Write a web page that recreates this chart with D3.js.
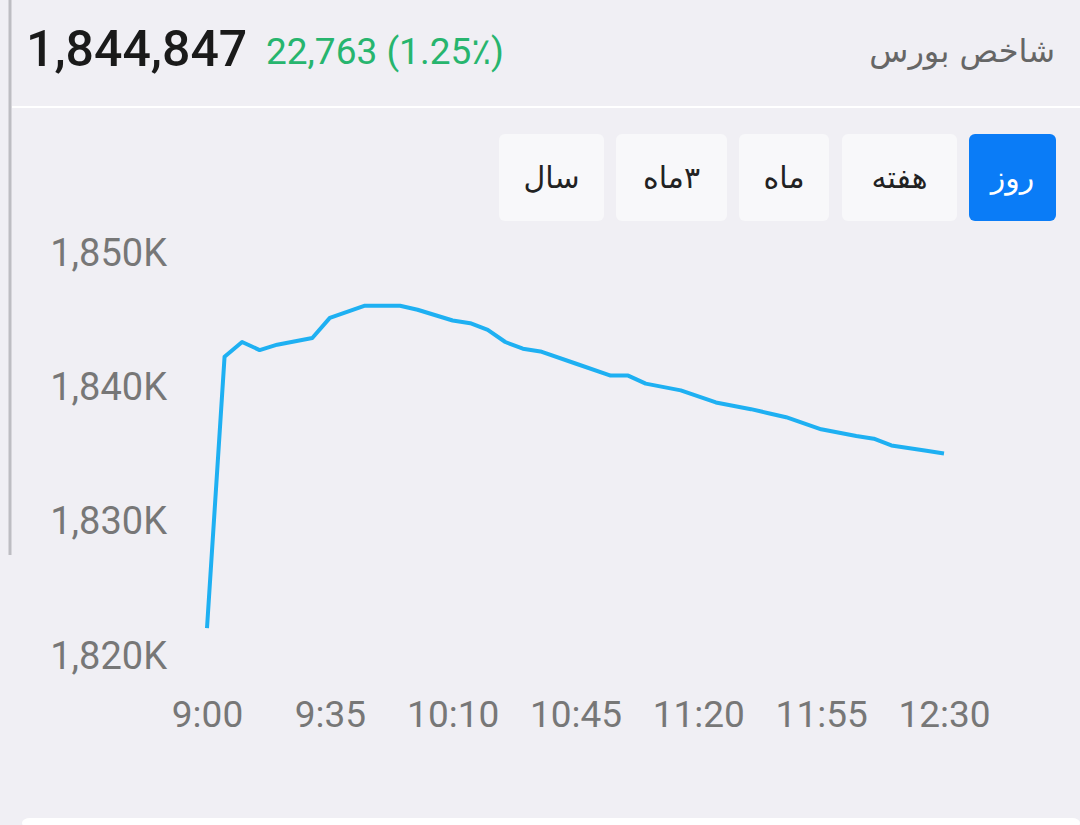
<!DOCTYPE html><html><head><meta charset="utf-8">
<script src="https://cdn.jsdelivr.net/npm/d3@7"></script>
<style>body{margin:0;background:#f0eff4;}svg{display:block}</style></head><body>
<svg id="c" width="1080" height="825"></svg>
<script>
const times=[0,5,10,15,20,30,35,45,55,60,70,75,80,85,90,95,105,115,120,125,135,145,155,160,165,175,185,190,195,205,210];
const values=[1822.0,1842.2,1843.3,1842.7,1843.1,1843.6,1845.1,1846.0,1846.0,1845.7,1844.9,1844.7,1844.2,1843.3,1842.8,1842.6,1841.7,1840.8,1840.8,1840.2,1839.7,1838.8,1838.3,1838.0,1837.7,1836.8,1836.3,1836.1,1835.6,1835.2,1835.0];
const yTicks=[1820,1830,1840,1850];
const xTicks=[0,35,70,105,140,175,210];
const xLabels=["9:00","9:35","10:10","10:45","11:20","11:55","12:30"];
const buttons=["روز","هفته","ماه","۳ماه","سال"];
const svg=d3.select("#c");
const f="Roboto, 'DejaVu Sans', sans-serif";
svg.append("rect").attr("x",22).attr("y",818).attr("width",1058).attr("height",10).attr("rx",8).attr("fill","#fff");
svg.append("line").attr("x1",10).attr("x2",10).attr("y1",0).attr("y2",555).attr("stroke","#bdbdc2").attr("stroke-width",3);
svg.append("line").attr("x1",12).attr("x2",1080).attr("y1",107).attr("y2",107).attr("stroke","#fff").attr("stroke-width",2);
svg.append("text").attr("x",26).attr("y",66).attr("font-family",f).attr("font-size",50).attr("font-weight",500).attr("fill","#1a1a1a").text("1,844,847");
svg.append("text").attr("x",266).attr("y",64).attr("font-family",f).attr("font-size",37).attr("fill","#27b56e").text("22,763 (1.25٪)");
svg.append("text").attr("x",1055).attr("y",62).attr("text-anchor","end").attr("font-family","'DejaVu Sans', sans-serif").attr("font-size",32).attr("fill","#666").text("شاخص بورس");
const bx=[[969,1056],[842,957],[739,829],[616,727],[499,604]];
buttons.forEach((b,i)=>{const [a,e]=bx[i];
svg.append("rect").attr("x",a).attr("y",134).attr("width",e-a).attr("height",87).attr("rx",6).attr("fill",i==0?"#0a7cf7":"#f8f8fa");
svg.append("text").attr("x",(a+e)/2).attr("y",188).attr("text-anchor","middle").attr("direction","rtl").attr("font-family","'DejaVu Sans', sans-serif").attr("font-size",30).attr("fill",i==0?"#fff":"#222").text(b);});
const x=d3.scaleLinear().domain([0,210]).range([207,944]);
const y=d3.scaleLinear().domain([1820,1850]).range([655,252]);
const ya=svg.append("g").attr("transform","translate(167,0)").call(d3.axisLeft(y).tickValues(yTicks).tickSize(0).tickPadding(0).tickFormat(d=>d3.format(",")(d)+"K"));
const xa=svg.append("g").attr("transform","translate(0,697)").call(d3.axisBottom(x).tickValues(xTicks).tickSize(0).tickPadding(0).tickFormat((d,i)=>xLabels[i]));
[ya,xa].forEach(g=>{g.select(".domain").remove();g.selectAll("text").attr("font-family",f).attr("fill","#777");});
ya.selectAll("text").attr("font-size",38).attr("dy","0.35em");
xa.selectAll("text").attr("font-size",37).attr("dy","0.8em");
svg.append("path").datum(times.map((t,i)=>[t,values[i]])).attr("fill","none").attr("stroke","#1eb0f2").attr("stroke-width",4).attr("stroke-linejoin","round")
.attr("d",d3.line().x(d=>x(d[0])).y(d=>y(d[1])));
</script></body></html>
